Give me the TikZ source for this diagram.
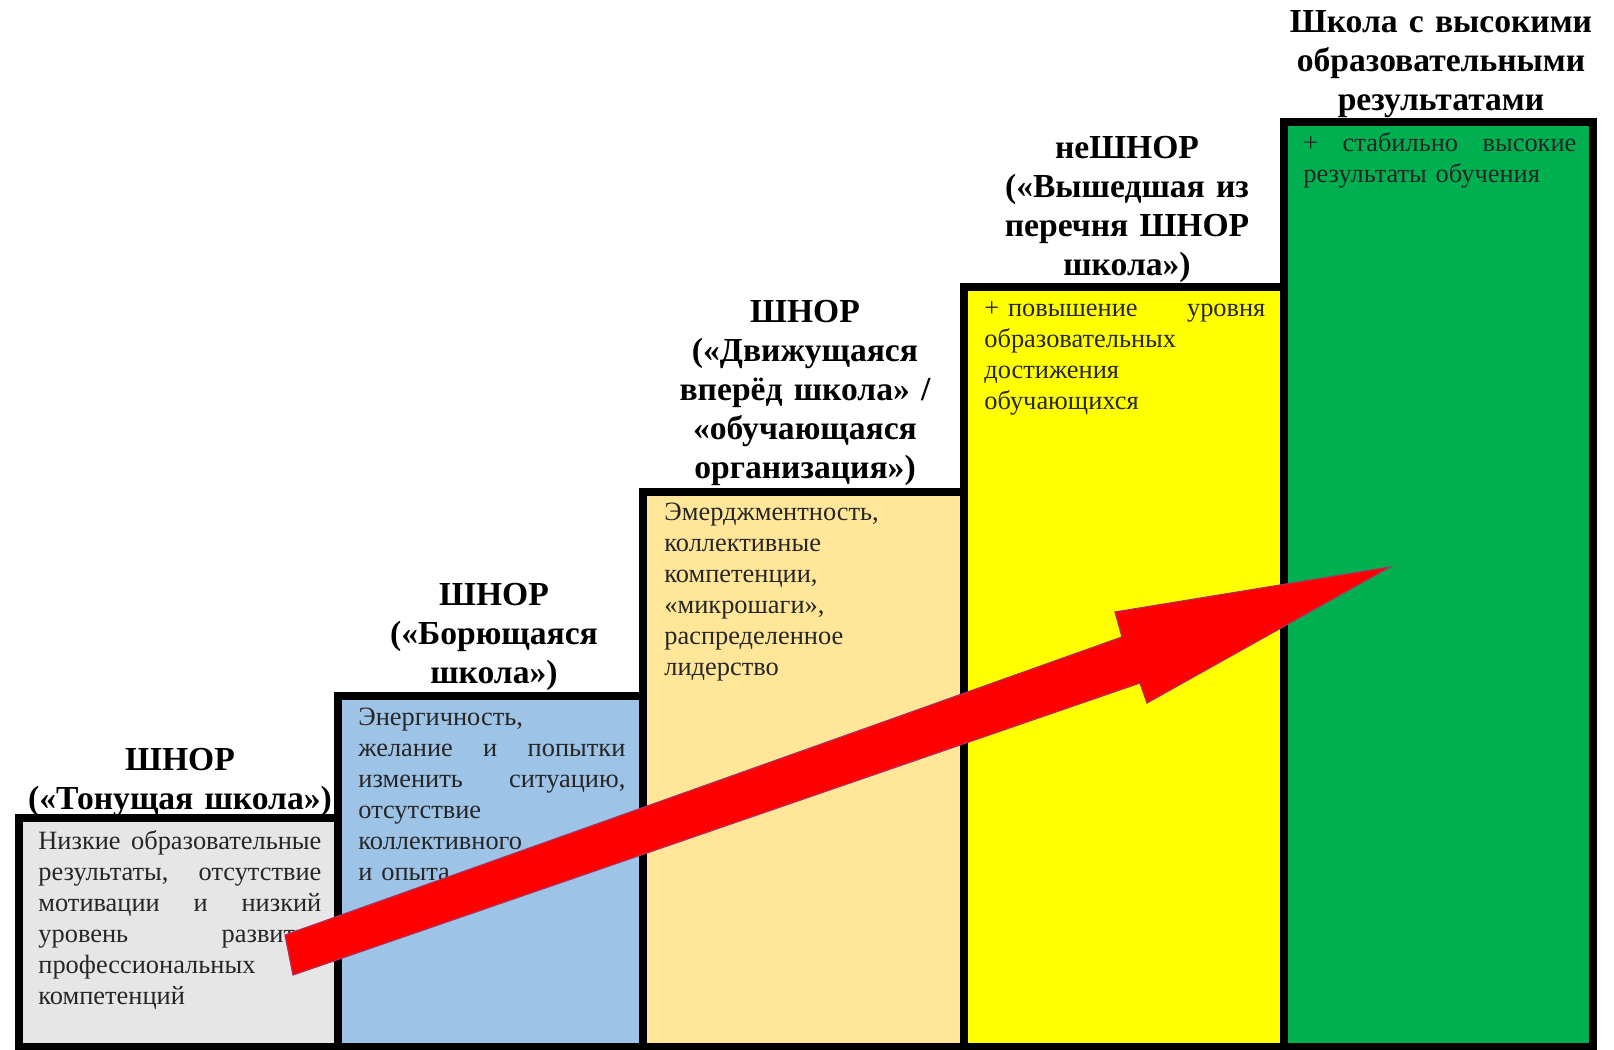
\documentclass[tikz,border=0pt]{standalone}
\usepackage{fontspec}
\setmainfont{Liberation Serif}
\usetikzlibrary{positioning}
\definecolor{stepgray}{HTML}{E7E6E6}
\definecolor{stepblue}{HTML}{9DC3E6}
\definecolor{stepsand}{HTML}{FFE699}
\definecolor{stepyellow}{HTML}{FFFF00}
\definecolor{stepgreen}{HTML}{00B050}
\definecolor{arrowred}{HTML}{FF0000}
\definecolor{arrowedge}{HTML}{B0305A}

\begin{document}
\begin{tikzpicture}[x=0.5pt,y=-0.5pt,
    title/.style={font=\fontsize{16.8}{19.5}\selectfont\bfseries, text width=#1, align=center, inner sep=0pt, anchor=base},
    body/.style={font=\fontsize{13.2}{15.5}\selectfont, text width=#1, align=left, inner sep=0pt, anchor=base west, text=black!85}]
        % Parameters
        \def\ybot{1047} % Bottom of the steps
        \def\lw{4pt}    % Border width

        \useasboundingbox (0,0) rectangle (1614,1050);

        % Steps
        \foreach \xl/\xr/\yt/\col in {19/338/818/stepgray, 338/643/696/stepblue,
            643/964/492/stepsand, 964/1284/287/stepyellow, 1284/1593/122/stepgreen} {
            \draw[line width=\lw, fill=\col] (\xl,\ybot) rectangle (\xr,\yt); % Step box
        }

        % Titles
        \node[title=175pt] (title1) at (180,770) {ШНОР\\(«Тонущая школа»)};
        \node[title=175pt] (title2) at (494,605) {ШНОР\\(«Борющаяся\\школа»)};
        \node[title=175pt] (title3) at (805,322) {ШНОР\\(«Движущаяся\\вперёд школа» /\\«обучающаяся\\организация»)};
        \node[title=175pt] (title4) at (1127,158) {неШНОР\\(«Вышедшая из\\перечня ШНОР\\школа»)};
        \node[title=175pt] (title5) at (1441,32) {Школа с высокими\\образовательными\\результатами};

        % Texts
        \node[body=141.5pt] (text1) at (38,849) {Низкие\hfill образовательные\\
            результаты,\hfill отсутствие\\
            мотивации\hfill и\hfill низкий\\
            уровень\hfill развития\\
            профессиональных\\
            компетенций};
        \node[body=133.5pt] (text2) at (358,725) {Энергичность,\\
            желание\hfill и\hfill попытки\\
            изменить\hfill ситуацию,\\
            отсутствие\\
            коллективного\\
            и опыта};
        \node[body=150pt] (text3) at (664,520) {Эмерджментность,\\
            коллективные\\
            компетенции,\\
            «микрошаги»,\\
            распределенное\\
            лидерство};
        \node[body=140.5pt] (text4) at (984,316) {+ повышение\hfill уровня\\
            образовательных\\
            достижения\\
            обучающихся};
        \node[body=136.5pt] (text5) at (1303,151) {+\hfill стабильно\hfill высокие\\
            результаты обучения};

        % Arrow
        \filldraw[fill=arrowred, draw=arrowedge, line width=0.6pt]
            (285,935) -- (1122,637) -- (1115,612) -- (1390,567)
            -- (1147,703) -- (1140,683) -- (293,975) -- cycle;
    \end{tikzpicture}
\end{document}
